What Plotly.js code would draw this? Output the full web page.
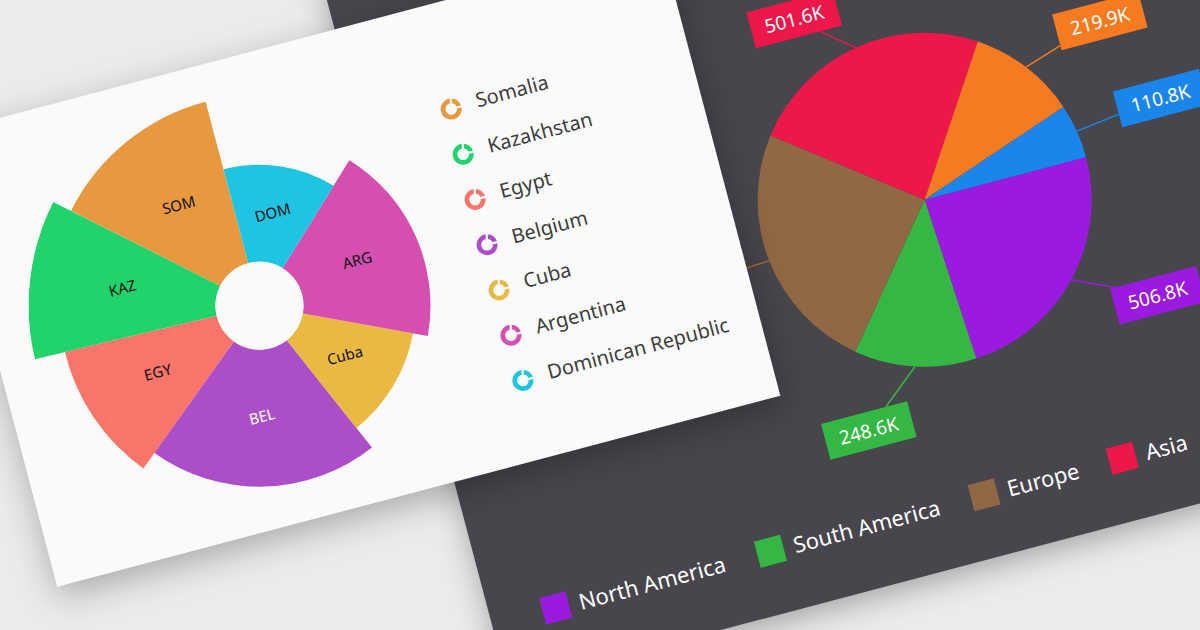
<!DOCTYPE html>
<html><head><meta charset="utf-8">
<script src="https://cdn.plot.ly/plotly-3.0.1.min.js"></script>
<style>
html,body{margin:0;padding:0;width:1200px;height:630px;overflow:hidden;background:#ebebeb;}
.card{position:absolute;transform-origin:50% 50%;transform:rotate(-14.8deg);}
#cardB{left:391px;top:-216px;width:1058px;height:780px;background:#48464d;box-shadow:0 8px 30px rgba(0,0,0,0.30);}
#cardA{left:-15px;top:31px;width:748px;height:468px;background:#fafafa;box-shadow:0 10px 34px rgba(0,0,0,0.28);}
#plotA{position:absolute;left:0;top:0;width:748px;height:500px;}
#plotB{position:absolute;left:0;top:0;width:1058px;height:780px;}
</style></head>
<body>
<div id="cardB" class="card"><div id="plotB"></div></div>
<div id="cardA" class="card"><div id="plotA"></div></div>
<script>
// ---------- data: white card (variable-width polar bars) ----------
const countries = ['Somalia','Kazakhstan','Egypt','Belgium','Cuba','Argentina','Dominican Republic'];
const countryCodes = ['SOM','KAZ','EGY','BEL','Cuba','ARG','DOM'];
const countryRadius = [167, 187, 156, 137, 112, 127, 97];
const countryAngularShare = [48.5, 40.1, 41.1, 73.9, 41.4, 68.5, 46.5];

// ---------- data: dark card (pie) ----------
const regions = ['North America','South America','Europe','Asia','Africa','Oceania'];
const regionValues = [506.8, 248.6, 514.2, 501.6, 219.9, 110.8];

// ---------- styles ----------
const FONT = '"Noto Sans", "Open Sans", sans-serif';
const countryColors = ['#e8983e','#20d36a','#f8756a','#ad4ec9','#e9b944','#d44fb0','#20c4e3'];
const codeTextColors = ['#111','#111','#111','#ffffff','#111','#111','#111'];
const regionColors = ['#9b1ae0','#34b843','#906843','#ee174a','#f67a20','#1a85ea'];
const labelOffsets = [[80,37],[-61,50],[-85,5],[-52,-43],[83,-26],[89,-11]];
const legendBX = [66, 288, 509, 652, 770, 900];

// ---------- chart A ----------
(function(){
  const W = 748, H = 500;
  const px = x => x / W, py = y => 1 - y / H;
  const cx = 267.4, cy = 247.9, R = 231, holeR = 44;
  let cum = 0;
  const centers = countryAngularShare.map(w => { const c = cum + w / 2; cum += w; return c; });
  const rmax = Math.max(...countryRadius);
  const traces = [{
    type: 'barpolar', r: countryRadius, theta: centers, width: countryAngularShare,
    marker: {color: countryColors, line: {width: 0}}, hoverinfo: 'skip', showlegend: false
  },{
    type: 'scatterpolar', mode: 'text', r: countryRadius.map(v => v / 2), theta: centers,
    text: countryCodes, textposition: 'middle center', cliponaxis: false,
    textfont: {family: FONT, size: 15, color: codeTextColors}, hoverinfo: 'skip', showlegend: false
  }];
  const annotations = [];
  const step = 46.8, ix = 503, iy0 = 106.7, ir = 11.5;
  countries.forEach((name, i) => {
    const yy = iy0 + i * step;
    traces.push({
      type: 'pie', values: [22, 78], sort: false, direction: 'clockwise', rotation: 12,
      marker: {colors: [countryColors[i], countryColors[i]], line: {color: '#fafafa', width: 2}},
      hole: 0.42, textinfo: 'none', hoverinfo: 'skip', showlegend: false,
      domain: {x: [px(ix - ir), px(ix + ir)], y: [py(yy + ir), py(yy - ir)]}
    });
    annotations.push({
      xref: 'paper', yref: 'paper', x: px(ix + 24), y: py(yy - 2), xanchor: 'left', yanchor: 'middle',
      text: name, showarrow: false, font: {family: FONT, size: 20, color: '#3d3d3d'}
    });
  });
  const layout = {
    width: W, height: H, margin: {l: 0, r: 0, t: 0, b: 0},
    paper_bgcolor: 'rgba(0,0,0,0)', plot_bgcolor: 'rgba(0,0,0,0)', showlegend: false,
    polar: {
      domain: {x: [px(cx - R), px(cx + R)], y: [py(cy + R), py(cy - R)]},
      hole: holeR / R, bgcolor: 'rgba(0,0,0,0)',
      angularaxis: {rotation: 90, direction: 'counterclockwise', visible: false, showgrid: false, showline: false, ticks: ''},
      radialaxis: {range: [0, rmax], visible: false, showgrid: false, showline: false, ticks: ''}
    },
    annotations: annotations
  };
  Plotly.newPlot('plotA', traces, layout, {staticPlot: true, displayModeBar: false});
})();

// ---------- chart B ----------
(function(){
  const W = 1058, H = 780;
  const px = x => x / W, py = y => 1 - y / H;
  const cx = 526.9, cy = 416.1, R = 167;
  const total = regionValues.reduce((a, b) => a + b, 0);
  const annotations = [], shapes = [];
  let cum = 0;
  regionValues.forEach((v, i) => {
    const mid = (cum + v / 2) / total; cum += v;
    const a = mid * 2 * Math.PI;
    const ex = cx + R * Math.cos(a), ey = cy + R * Math.sin(a);
    annotations.push({
      xref: 'paper', yref: 'paper', x: px(ex), y: py(ey),
      ax: labelOffsets[i][0], ay: labelOffsets[i][1], axref: 'pixel', ayref: 'pixel',
      text: v.toFixed(1) + 'K', showarrow: true, arrowhead: 0, arrowwidth: 1.5,
      arrowcolor: regionColors[i], standoff: 0, startstandoff: 0,
      bgcolor: regionColors[i], width: 88, height: 36, borderpad: 0,
      font: {family: FONT, size: 19, color: '#ffffff'}
    });
  });
  const ly = 716.5, sq = 27;
  regions.forEach((name, i) => {
    const x = legendBX[i];
    shapes.push({type: 'rect', xref: 'paper', yref: 'paper',
      x0: px(x - sq / 2), x1: px(x + sq / 2), y0: py(ly + sq / 2), y1: py(ly - sq / 2),
      fillcolor: regionColors[i], line: {width: 0}});
    annotations.push({xref: 'paper', yref: 'paper', x: px(x + sq / 2 + 8), y: py(ly - 1),
      xanchor: 'left', yanchor: 'middle', text: name, showarrow: false,
      font: {family: FONT, size: 22, color: '#ffffff'}});
  });
  const traces = [{
    type: 'pie', labels: regions, values: regionValues, sort: false, direction: 'clockwise', rotation: 90,
    marker: {colors: regionColors, line: {width: 0}}, textinfo: 'none', hoverinfo: 'skip', showlegend: false,
    domain: {x: [px(cx - R), px(cx + R)], y: [py(cy + R), py(cy - R)]}
  }];
  const layout = {
    width: W, height: H, margin: {l: 0, r: 0, t: 0, b: 0},
    paper_bgcolor: 'rgba(0,0,0,0)', plot_bgcolor: 'rgba(0,0,0,0)', showlegend: false,
    annotations: annotations, shapes: shapes
  };
  Plotly.newPlot('plotB', traces, layout, {staticPlot: true, displayModeBar: false});
})();
</script>
</body></html>
